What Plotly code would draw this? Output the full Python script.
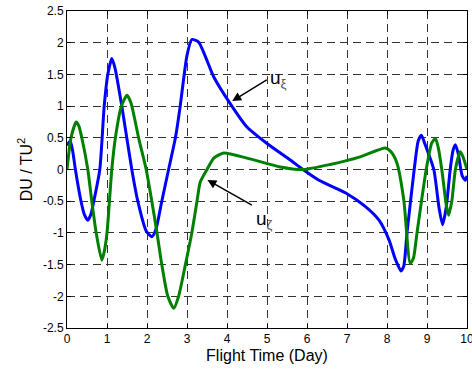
import plotly.graph_objects as go

# u_xi (blue)
xi_x = [0.0, 0.08, 0.14, 0.21, 0.35, 0.44, 0.52, 0.60, 0.67, 0.82, 0.93, 1.02, 1.12, 1.20, 1.37,
        1.62, 1.77, 1.98, 2.12, 2.22, 2.37, 2.54, 2.71, 2.83, 2.93, 3.00, 3.12, 3.29, 3.67, 4.08,
        4.5, 5.0, 5.58, 5.9, 6.3, 6.97, 7.47, 7.8, 8.05, 8.2, 8.35, 8.42, 8.5, 8.68, 8.78, 8.86,
        8.95, 9.17, 9.3, 9.39, 9.48, 9.58, 9.65, 9.71, 9.78, 9.88, 9.96, 10.0]
xi_y = [0.38, 0.45, 0.30, 0.0, -0.5, -0.72, -0.80, -0.70, -0.5, 0.0, 1.0, 1.5, 1.75, 1.6, 1.0,
        0.0, -0.5, -0.97, -1.06, -0.95, -0.5, 0.0, 0.5, 1.0, 1.5, 1.8, 2.05, 2.01, 1.46, 1.04,
        0.67, 0.41, 0.15, 0.0, -0.17, -0.37, -0.59, -0.80, -1.11, -1.4, -1.6, -1.52, -1.0, 0.0, 0.45, 0.54,
        0.4, 0.0, -0.6, -0.87, -0.6, 0.0, 0.3, 0.39, 0.25, -0.1, -0.17, -0.1]

# u_zeta (green)
ze_x = [0.0, 0.1, 0.23, 0.3, 0.37, 0.52, 0.62, 0.73, 0.87, 0.93, 1.0, 1.12, 1.21, 1.36, 1.5,
        1.6, 1.79, 1.98, 2.12, 2.25, 2.37, 2.52, 2.67, 2.79, 2.96, 3.12, 3.25, 3.33, 3.5, 3.67,
        3.92, 4.5, 5.33, 5.9, 6.58, 7.33, 7.96, 8.1, 8.25, 8.42, 8.58, 8.66, 8.75, 8.98, 9.12,
        9.21, 9.28, 9.37, 9.48, 9.54, 9.62, 9.71, 9.83, 9.9, 10.0]
ze_y = [0.0, 0.5, 0.75, 0.68, 0.5, 0.0, -0.5, -1.0, -1.43, -1.3, -1.0, 0.0, 0.5, 1.0, 1.17,
        1.05, 0.5, 0.0, -0.5, -1.0, -1.5, -2.0, -2.19, -2.0, -1.5, -1.0, -0.5, -0.2, 0.0, 0.18,
        0.26, 0.18, 0.04, 0.0, 0.08, 0.2, 0.34, 0.28, 0.1, -0.48, -1.48, -1.4, -1.0, 0.0, 0.42,
        0.49, 0.35, 0.0, -0.55, -0.72, -0.5, 0.0, 0.28, 0.2, 0.0]

x_ticks = [0, 1, 2, 3, 4, 5, 6, 7, 8, 9, 10]
y_ticks = [-2.5, -2, -1.5, -1, -0.5, 0, 0.5, 1, 1.5, 2, 2.5]
y_labels = ["-2.5", "-2", "-1.5", "-1", "-0.5", "0", "0.5", "1", "1.5", "2", "2.5"]

FONT = "Liberation Sans, Arial, sans-serif"

fig = go.Figure()
fig.add_trace(go.Scatter(x=xi_x, y=xi_y, mode="lines",
                         line=dict(color="#0000FF", width=3, shape="spline", smoothing=0.6),
                         showlegend=False))
fig.add_trace(go.Scatter(x=ze_x, y=ze_y, mode="lines",
                         line=dict(color="#008000", width=3, shape="spline", smoothing=0.6),
                         showlegend=False))

axis_common = dict(showline=True, linecolor="black", linewidth=1, mirror="ticks",
                   ticks="inside", ticklen=4, tickcolor="black",
                   showgrid=True, gridcolor="#333333", gridwidth=1, griddash="8px,5px",
                   zeroline=False, ticklabeloverflow="allow", automargin=False,
                   tickfont=dict(family=FONT, size=12, color="black"))

fig.update_xaxes(range=[0, 10], tickvals=x_ticks, **axis_common,
                 title=dict(text="Flight Time (Day)", font=dict(family=FONT, size=16, color="black"),
                            standoff=4))
fig.update_yaxes(range=[-2.5, 2.5], tickvals=y_ticks, ticktext=y_labels, **axis_common,
                 title=dict(text="DU / TU<sup>2</sup>", font=dict(family=FONT, size=16, color="black"),
                            standoff=6))

# arrows
fig.add_annotation(x=4.13, y=1.08, ax=5.03, ay=1.43, axref="x", ayref="y", xref="x", yref="y",
                   text="", showarrow=True, arrowhead=2, arrowsize=1.2, arrowwidth=1.5,
                   arrowcolor="black")
fig.add_annotation(x=3.51, y=-0.165, ax=4.66, ay=-0.575, axref="x", ayref="y", xref="x", yref="y",
                   text="", showarrow=True, arrowhead=2, arrowsize=1.2, arrowwidth=1.5,
                   arrowcolor="black")
fig.add_annotation(x=5.03, y=1.42, xref="x", yref="y", xanchor="left", yanchor="middle",
                   text="u<sub><span style='color:#555'>ξ</span></sub>", showarrow=False,
                   font=dict(family=FONT, size=19, color="black"))
fig.add_annotation(x=4.68, y=-0.80, xref="x", yref="y", xanchor="left", yanchor="middle",
                   text="u<sub><span style='color:#555'>ζ</span></sub>", showarrow=False,
                   font=dict(family=FONT, size=19, color="black"))

fig.update_layout(width=472, height=371, margin=dict(l=67, r=5, t=11, b=43, autoexpand=False),
                  paper_bgcolor="white", plot_bgcolor="white",
                  font=dict(family=FONT, color="black"))

fig.write_html("out.html")
